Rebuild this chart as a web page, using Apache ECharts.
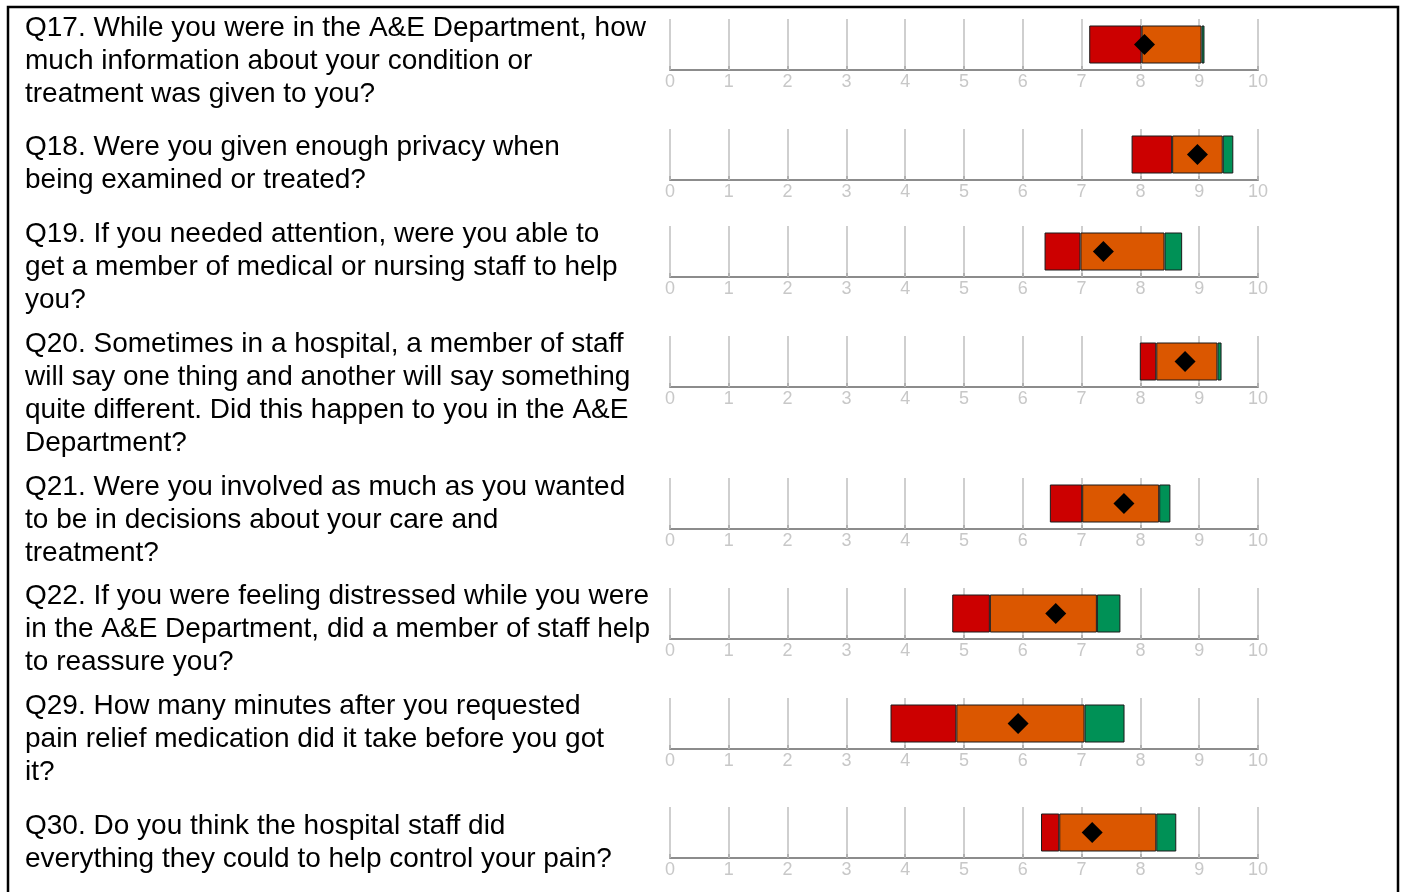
<!DOCTYPE html>
<html>
<head>
<meta charset="utf-8">
<script src="https://cdn.jsdelivr.net/npm/echarts@6/dist/echarts.min.js"></script>
<style>
  html, body { margin: 0; padding: 0; background: #fff; }
  #chart { width: 1401px; height: 892px; }
</style>
</head>
<body>
<div id="chart"></div>
<script>
const questions = [
  'Q17. While you were in the A&E Department, how\nmuch information about your condition or\ntreatment was given to you?',
  'Q18. Were you given enough privacy when\nbeing examined or treated?',
  'Q19. If you needed attention, were you able to\nget a member of medical or nursing staff to help\nyou?',
  'Q20. Sometimes in a hospital, a member of staff\nwill say one thing and another will say something\nquite different. Did this happen to you in the A&E\nDepartment?',
  'Q21. Were you involved as much as you wanted\nto be in decisions about your care and\ntreatment?',
  'Q22. If you were feeling distressed while you were\nin the A&E Department, did a member of staff help\nto reassure you?',
  'Q29. How many minutes after you requested\npain relief medication did it take before you got\nit?',
  'Q30. Do you think the hospital staff did\neverything they could to help control your pain?'
];
// band edges on the 0-10 scale
const redStart    = [7.13, 7.85, 6.37, 7.99, 6.46, 4.80, 3.75, 6.31];
const orangeStart = [8.02, 8.54, 6.98, 8.27, 7.01, 5.44, 4.87, 6.62];
const greenStart  = [9.04, 9.40, 8.41, 9.31, 8.32, 7.26, 7.05, 8.27];
const greenEnd    = [9.09, 9.58, 8.71, 9.38, 8.51, 7.66, 7.73, 8.61];
const scores      = [8.07, 8.97, 7.37, 8.76, 7.72, 6.56, 5.92, 7.18];
const tickLabels  = ['0', '1', '2', '3', '4', '5', '6', '7', '8', '9', '10'];

// layout: axis baseline y of each row, first text line centre y
const axisY = [70, 180, 277, 387, 529, 639, 749, 858];
const textY = [28, 147, 234, 344, 487, 596, 706, 826];

const font = '"Liberation Sans", Arial, sans-serif';
const chart = echarts.init(document.getElementById('chart'));

const grid = [], xAxis = [], yAxis = [], series = [], graphic = [];

questions.forEach((q, i) => {
  grid.push({ left: 670, width: 588, top: axisY[i] - 51, height: 51 });
  xAxis.push({
    gridIndex: i, type: 'value', min: 0, max: 10, interval: 1,
    axisLine: { show: true, lineStyle: { color: '#8c8c8c', width: 2 } },
    axisTick: { show: true, inside: true, length: 4, lineStyle: { color: '#b0b0b0', width: 2 } },
    splitLine: { show: true, lineStyle: { color: '#cfcfcf', width: 2 } },
    axisLabel: {
      color: '#c8c8c8', fontSize: 18, fontFamily: font, margin: 3,
      formatter: v => tickLabels[v] ?? ''
    }
  });
  yAxis.push({ gridIndex: i, type: 'category', data: [q.slice(0, 3)], show: false });

  const base = { type: 'bar', xAxisIndex: i, yAxisIndex: i, stack: 's' + i, barWidth: 38, silent: true };
  series.push(Object.assign({}, base, {
    data: [redStart[i]], itemStyle: { color: 'transparent' }
  }));
  series.push(Object.assign({}, base, {
    data: [+(orangeStart[i] - redStart[i]).toFixed(3)],
    itemStyle: { color: '#cc0000', borderColor: '#1a1a1a', borderWidth: 1 }
  }));
  series.push(Object.assign({}, base, {
    data: [+(greenStart[i] - orangeStart[i]).toFixed(3)],
    itemStyle: { color: '#db5700', borderColor: '#1a1a1a', borderWidth: 1 }
  }));
  series.push(Object.assign({}, base, {
    data: [+(greenEnd[i] - greenStart[i]).toFixed(3)],
    itemStyle: { color: '#009156', borderColor: '#1a1a1a', borderWidth: 1 }
  }));
  series.push({
    type: 'scatter', xAxisIndex: i, yAxisIndex: i, silent: true,
    symbol: 'diamond', symbolSize: [21, 21], z: 5,
    itemStyle: { color: '#000', opacity: 1 },
    data: [[scores[i], 0]]
  });

  graphic.push({
    type: 'text', left: 25, top: textY[i] - 16.5,
    style: { text: q, font: '28px ' + font, fill: '#000', lineHeight: 33 }
  });
});

graphic.push({
  type: 'polyline',
  shape: { points: [[8, 892], [8, 7], [1398, 7], [1398, 892]] },
  style: { stroke: '#000', lineWidth: 2.5, fill: null }
});

chart.setOption({
  animation: false,
  backgroundColor: '#fff',
  grid, xAxis, yAxis, series, graphic
});
</script>
</body>
</html>
